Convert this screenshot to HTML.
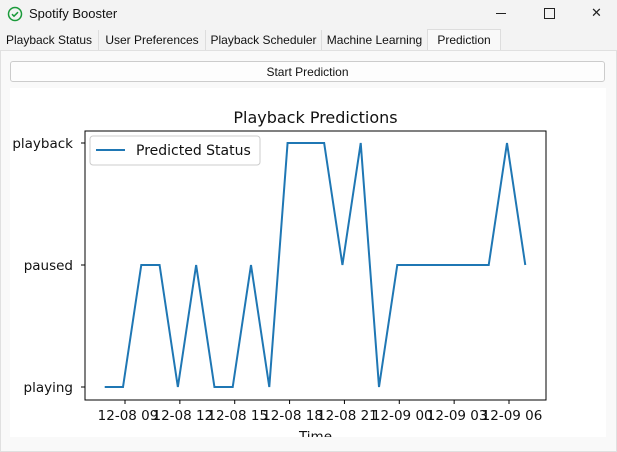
<!DOCTYPE html>
<html><head><meta charset="utf-8"><style>
body{margin:0;width:617px;height:450px;background:#f3f3f3;font-family:"Liberation Sans",sans-serif;overflow:hidden;position:relative}
.t{position:absolute}
.tab{position:absolute;top:30px;height:20px;font-size:12px;line-height:21px;text-align:center;border-right:1px solid #ddd;color:#111}
</style></head><body>
<div class="t" style="left:0;top:0;width:617px;height:28px;background:#f3f3f3">
<svg class="t" style="left:7px;top:6px" width="16" height="16"><circle cx="8" cy="8" r="6.5" fill="none" stroke="#1a9a3a" stroke-width="1.5"/><path d="M5 8.2l2 2 4-4" fill="none" stroke="#1a9a3a" stroke-width="1.5"/></svg>
<div class="t" style="left:29px;top:6px;font-size:13px;color:#111">Spotify Booster</div>
<div class="t" style="left:496px;top:13px;width:10px;height:1px;background:#222"></div>
<div class="t" style="left:544px;top:8px;width:9px;height:9px;border:1px solid #222"></div>
<div class="t" style="left:591px;top:5px;font-size:13px;color:#222">✕</div>
</div>
<div class="tab" style="left:0;width:98px">Playback Status</div>
<div class="tab" style="left:99px;width:106px">User Preferences</div>
<div class="tab" style="left:206px;width:115px">Playback Scheduler</div>
<div class="tab" style="left:322px;width:105px">Machine Learning</div>
<div class="tab" style="left:427px;top:29px;height:21px;width:72px;background:#f9f9f9;border:1px solid #ddd;border-bottom:none;line-height:20px">Prediction</div>
<div class="t" style="left:0;top:50px;width:615px;height:400px;background:#f9f9f9;border:1px solid #e0e0e0"></div>
<div class="t" style="left:10px;top:61px;width:593px;height:19px;background:#fdfdfd;border:1px solid #ccc;border-radius:3px;font-size:12px;text-align:center;line-height:20px;color:#111">Start Prediction</div>
<svg class="t" style="left:10px;top:88px" width="596" height="349" id="chart"></svg>
<script>
const categories=["playing","paused","playback"];
const hours=[8,9,10,11,12,13,14,15,16,17,18,19,20,21,22,23,24,25,26,27,28,29,30,31];
const statusValues=[0,0,1,1,0,1,0,0,1,0,2,2,2,1,2,0,1,1,1,1,1,1,2,1];
const xTickHours=[9,12,15,18,21,24,27,30];
const xTickLabels=["12-08 09","12-08 12","12-08 15","12-08 18","12-08 21","12-09 00","12-09 03","12-09 06"];
const svg=document.getElementById('chart');const NS='http://www.w3.org/2000/svg';
const OX=10,OY=88;
const L=85-OX,R=546-OX,T=131-OY,B=400-OY;
const FF='DejaVu Sans, sans-serif';
const x=h=>125-OX+(h-9)*(509-125)/21;
const y=v=>387-OY-v*122;
function mk(tag,attrs,name,txt){const e=document.createElementNS(NS,tag);for(const k in attrs)e.setAttribute(k,attrs[k]);


if(txt!=null)e.textContent=txt;svg.appendChild(e);return e;}
mk('rect',{x:0,y:0,width:596,height:349,fill:'#fff'},'chart-background');
mk('text',{x:(L+R)/2,y:35,'text-anchor':'middle','font-size':'16','font-family':FF,fill:'#111'},'chart-title','Playback Predictions');
mk('polyline',{points:hours.map((h,i)=>(x(h)-2)+','+y(statusValues[i])).join(' '),fill:'none',stroke:'#1f77b4','stroke-width':2,'stroke-linejoin':'miter'},'predicted-status-line');
mk('rect',{x:L,y:T,width:R-L,height:B-T,fill:'none',stroke:'#000','stroke-width':1},'plot-frame');
categories.forEach((c,i)=>{mk('line',{x1:L-4,x2:L,y1:y(i),y2:y(i),stroke:'#000'},'y-tick');
mk('text',{x:L-12,y:y(i)+5,'text-anchor':'end','font-size':'13.5','font-family':FF,fill:'#111'},'y-tick-label',c);});
xTickHours.forEach((h,i)=>{mk('line',{x1:x(h),x2:x(h),y1:B,y2:B+4,stroke:'#000'},'x-tick');
mk('text',{x:x(h)+3,y:B+20,'text-anchor':'middle','font-size':'13.5','font-family':FF,fill:'#111'},'x-tick-label',xTickLabels[i]);});
mk('text',{x:(L+R)/2,y:353,'text-anchor':'middle','font-size':'13.5','font-family':FF,fill:'#111'},'x-axis-title','Time');
mk('rect',{x:L+5,y:T+5,width:170,height:29,rx:3,fill:'#fff',stroke:'#ccc'},'legend-box');
mk('line',{x1:L+11,x2:L+40,y1:T+19,y2:T+19,stroke:'#1f77b4','stroke-width':2},'legend-swatch');
mk('text',{x:L+51,y:T+24,'font-size':'14','font-family':FF,fill:'#111'},'legend-entry','Predicted Status');
</script>
</body></html>
